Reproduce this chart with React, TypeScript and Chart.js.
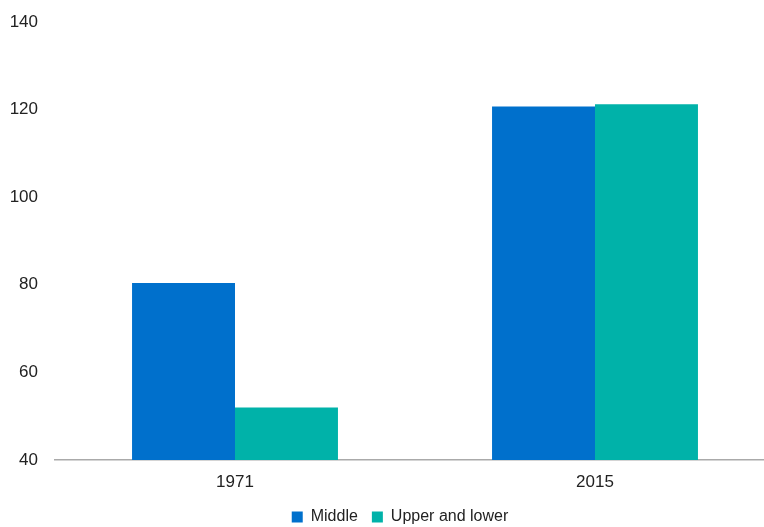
import React, { useEffect, useRef } from "react";
import { Chart, registerables } from "chart.js";

Chart.register(...registerables);

const categories = ["1971", "2015"];
const middleValues = [80.4, 120.7];
const upperLowerValues = [52.0, 121.2];
const seriesNames = ["Middle", "Upper and lower"];
const yTicks = [40, 60, 80, 100, 120, 140];

const FONT = "'Liberation Sans', Arial, Helvetica, sans-serif";
const TEXT = "#222222";

// widen the y-axis label clip box to the canvas edge after layout
const yAxisLeftEdge = {
  id: "yAxisLeftEdge",
  afterLayout(chart: any) {
    if (chart.scales.y) chart.scales.y.left = 0;
  },
};

export default function App() {
  const ref = useRef<HTMLCanvasElement | null>(null);

  useEffect(() => {
    if (!ref.current) return;
    const chart = new Chart(ref.current, {
      type: "bar",
      data: {
        labels: categories,
        datasets: [
          {
            label: seriesNames[0],
            data: middleValues,
            backgroundColor: "#0070CC",
            borderWidth: 0,
          },
          {
            label: seriesNames[1],
            data: upperLowerValues,
            backgroundColor: "#00B2A9",
            borderWidth: 0,
          },
        ],
      },
      plugins: [yAxisLeftEdge],
      options: {
        animation: false,
        responsive: false,
        maintainAspectRatio: false,
        layout: { padding: { top: 22, right: 0, left: 25, bottom: -8 } },
        datasets: {
          bar: { barPercentage: 1, categoryPercentage: 0.572 },
        },
        plugins: {
          tooltip: { enabled: false },
          legend: {
            position: "bottom",
            labels: {
              font: { family: FONT, size: 16 },
              color: TEXT,
              boxWidth: 11,
              boxHeight: 11,
              padding: 14,
            },
          },
        },
        scales: {
          x: {
            afterFit: (scale: any) => {
              scale.height = 35;
            },
            grid: { display: false, drawTicks: false },
            border: { display: true, color: "#aaaaaa", width: 1.5 },
            ticks: {
              font: { family: FONT, size: 17 },
              color: TEXT,
              padding: 12,
            },
          },
          y: {
            min: 40,
            max: 140,
            afterFit: (scale: any) => {
              scale.width = 30;
              scale.paddingTop = 0;
              scale.paddingBottom = 0;
            },
            afterBuildTicks: (scale: any) => {
              scale.ticks = yTicks.map((v) => ({ value: v }));
            },
            grid: { display: false, drawTicks: false },
            border: { display: false },
            ticks: {
              font: { family: FONT, size: 17 },
              color: TEXT,
              padding: 17,
            },
          },
        },
      },
    });
    return () => chart.destroy();
  }, []);

  return (
    <div
      style={{
        position: "fixed",
        left: 0,
        top: 0,
        width: 764,
        height: 527,
        overflow: "hidden",
        background: "#ffffff",
      }}
    >
      <canvas ref={ref} width={775} height={527} style={{ display: "block" }} />
    </div>
  );
}
